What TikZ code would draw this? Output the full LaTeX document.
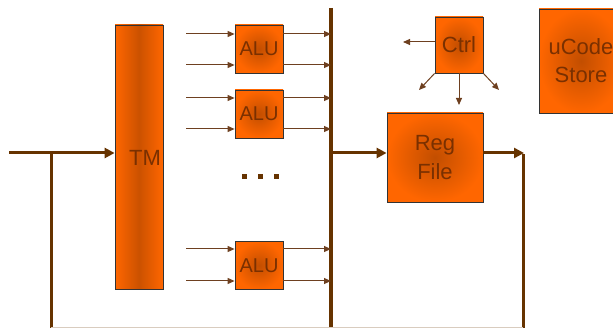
\documentclass[tikz,border=0pt]{standalone}
\usepackage{fontspec}
\setmainfont{Liberation Sans}
\usetikzlibrary{arrows.meta}
\definecolor{org}{HTML}{FF6600}
\definecolor{orgdark}{HTML}{C24E00}
\definecolor{txtbrown}{HTML}{7A3000}
\definecolor{wire}{HTML}{663300}
\definecolor{thinwire}{HTML}{6E4020}
\tikzset{
  box/.style={draw=black!80, line width=0.8pt, inner sep=0pt, text=txtbrown,
    inner color=orgdark, outer color=org, align=center, font=\fontsize{21}{23}\selectfont},
  tmbox/.style={draw=black!80, line width=0.8pt, inner sep=0pt, text=txtbrown,
    left color=org, right color=org, middle color=orgdark!85!org, font=\fontsize{22}{24}\selectfont},
  thinarrow/.style={draw=thinwire, line width=1pt, -{Triangle[length=7pt,width=6pt]}},
  thickwire/.style={draw=wire, line width=3pt},
  thickarrow/.style={thickwire, -{Triangle[length=10pt,width=10pt]}},
  dotsq/.style={fill=wire, minimum size=5pt, inner sep=0pt}
}
\begin{document}
\begin{tikzpicture}[x=1pt,y=-1pt]
\useasboundingbox (0,0) rectangle (613,328);
\clip (0,0) rectangle (613,328);
% boxes
\node[tmbox, minimum width=48pt, minimum height=264pt] (tm) at (139,157) {};
\node[text=txtbrown, font=\fontsize{22}{24}\selectfont] (tmlabel) at (145,158) {TM};
\node[box, minimum width=48pt, minimum height=48pt, font=\fontsize{20}{22}\selectfont] (alu1) at (259,49) {ALU};
\node[box, minimum width=48pt, minimum height=48pt, font=\fontsize{20}{22}\selectfont] (alu2) at (259,114) {ALU};
\node[box, minimum width=48pt, minimum height=48pt, font=\fontsize{20}{22}\selectfont] (alu3) at (259,265.5) {ALU};
\node[box, minimum width=48pt, minimum height=56pt, font=\fontsize{22}{24}\selectfont] (ctrl) at (459,45) {Ctrl};
\node[box, minimum width=96pt, minimum height=89pt, font=\fontsize{22}{29}\selectfont] (reg) at (435,157.5) {Reg\\File};
\node[box, minimum width=84pt, minimum height=104pt, font=\fontsize{22}{28}\selectfont] (ucode) at (581,61) {uCode\\Store};
% dots
\node[dotsq] (d1) at (244,177) {};
\node[dotsq] (d2) at (260,177) {};
\node[dotsq] (d3) at (276,177) {};
% bus
\coordinate (bustop) at (331,8);
\coordinate (busbot) at (331,330);
\draw[draw=wire, line width=4pt] (bustop) -- (busbot);
% ALU inputs and outputs
\foreach \y/\a in {34/alu1,65/alu1,98/alu2,129/alu2,249/alu3,281/alu3}{
  \coordinate (in\y) at (186,\y);
  \draw[thinarrow] (in\y) -- (in\y -| \a.west);
  \draw[thinarrow] (\a.east |- in\y) -- (in\y -| bustop);
}
% input to TM and feedback
\coordinate (src) at (9,153);
\coordinate (fbtop) at (51,153);
\coordinate (fbbot) at (51,330);
\coordinate (rgout) at (523,153);
\coordinate (rgbot) at (523,330);
\coordinate (bustap) at (331,153);
\draw[thickarrow] (src) -- (src -| tm.west);
\draw[thickwire] (fbtop) -- (fbbot);
\draw[thickarrow] (bustap) -- (bustap -| reg.west);
\draw[thickarrow, shorten >=-1pt] (reg.east |- rgout) -- (rgout);
\draw[thickwire] ([yshift=-1.5pt]rgout) -- (rgbot);
\draw[draw=wire!25, line width=1pt] (51,327.5) -- (523,327.5);
% ctrl arrows
\coordinate (cl) at (403,42);
\coordinate (cd) at (459,105);
\coordinate (cdl) at (419,90);
\coordinate (cdr) at (499,90);
\draw[thinarrow] (ctrl.west |- cl) -- (cl);
\draw[thinarrow] (ctrl.south) -- (cd);
\draw[thinarrow] (ctrl.south west) -- (cdl);
\draw[thinarrow] (ctrl.south east) -- (cdr);
\end{tikzpicture}
\end{document}
